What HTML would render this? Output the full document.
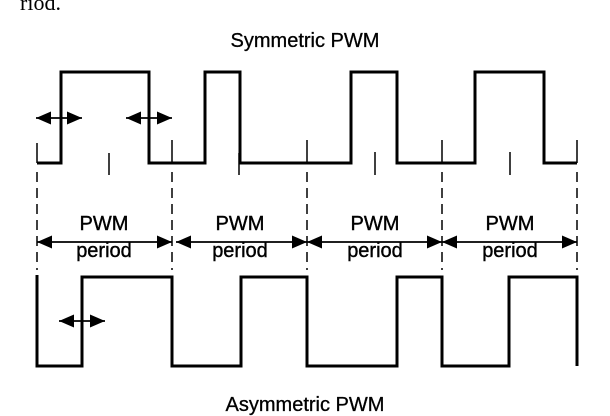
<!DOCTYPE html>
<html><head><style>
html,body{margin:0;padding:0;background:#fff;width:610px;height:416px;overflow:hidden}
text{font-family:"Liberation Sans",Arial,sans-serif;fill:#000}
</style></head><body>
<svg width="610" height="416" viewBox="0 0 610 416" xmlns="http://www.w3.org/2000/svg">
<defs>
<marker id="b" viewBox="0 0 10 10" refX="10" refY="5" markerWidth="15" markerHeight="13" orient="auto-start-reverse" markerUnits="userSpaceOnUse" preserveAspectRatio="none"><path d="M0,0L10,5L0,10z" fill="#000"/></marker>
</defs>
<text x="20" y="10" font-size="22" style="font-family:'Liberation Serif',serif">riod.</text>
<text x="305" y="47" font-size="20" text-anchor="middle" stroke="#000" stroke-width="0.3">Symmetric PWM</text>
<text x="305" y="411" font-size="20" text-anchor="middle" stroke="#000" stroke-width="0.3">Asymmetric PWM</text>
<g stroke="#000" stroke-width="3" fill="none">
<path d="M37,163H61V72H149V163H205V72H240V163H351V72H397V163H475V72H544V163H577"/>
<path d="M37,275V366H82V277H172V366H241V277H307V366H397V277H442V366H509V277H577V366"/>
</g>
<g stroke="#000" stroke-width="1.5">
<path d="M37,143V163M172,140V163M307,140V163M442,140V163M577,140V163"/>
<path d="M109,153V175M239,153V175M375,152V175M510,152V175"/>
</g>
<g stroke="#000" stroke-width="1.5" stroke-dasharray="10,6">
<path d="M37,172V270M172,172V270M307,172V270M442,172V270M577,172V270"/>
</g>
<g stroke="#000" stroke-width="1.8">
<line x1="37" y1="242" x2="172" y2="242" marker-start="url(#b)" marker-end="url(#b)"/>
<line x1="176" y1="242" x2="307" y2="242" marker-start="url(#b)" marker-end="url(#b)"/>
<line x1="307" y1="242" x2="442" y2="242" marker-start="url(#b)" marker-end="url(#b)"/>
<line x1="442" y1="242" x2="577" y2="242" marker-start="url(#b)" marker-end="url(#b)"/>
<line x1="36" y1="118" x2="82" y2="118" marker-start="url(#b)" marker-end="url(#b)"/>
<line x1="126" y1="118" x2="172" y2="118" marker-start="url(#b)" marker-end="url(#b)"/>
<line x1="59" y1="321" x2="105" y2="321" marker-start="url(#b)" marker-end="url(#b)"/>
</g>
<g font-size="20" text-anchor="middle" stroke="#000" stroke-width="0.4">
<text x="104" y="230">PWM</text><text x="104" y="257">period</text>
<text x="240" y="230">PWM</text><text x="240" y="257">period</text>
<text x="375" y="230">PWM</text><text x="375" y="257">period</text>
<text x="510" y="230">PWM</text><text x="510" y="257">period</text>
</g>
</svg>
</body></html>
